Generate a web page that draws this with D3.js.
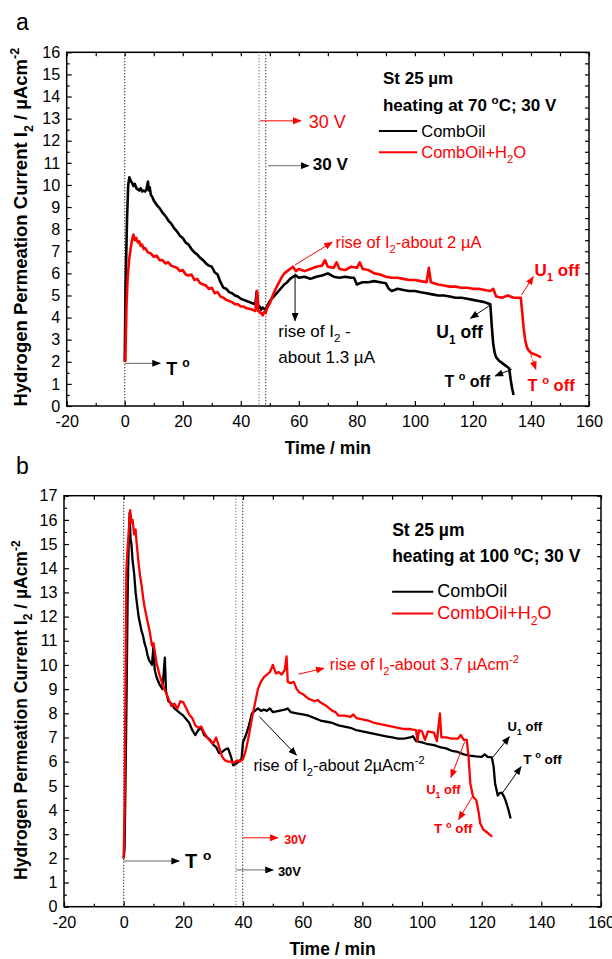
<!DOCTYPE html>
<html lang="en">
<head>
<meta charset="UTF-8">
<title>Hydrogen permeation current</title>
<script src="https://cdn.jsdelivr.net/npm/d3@7/dist/d3.min.js"></script>
<style>
  body { margin: 0; background: #fff; }
  svg { display: block; font-family: "Liberation Sans", Arial, sans-serif; }
</style>
</head>
<body>
<svg width="612" height="959"></svg>
<script>
// ---- data: [time in min, current in uA/cm2] ----
var xTicks = [-20, 0, 20, 40, 60, 80, 100, 120, 140, 160];

// panel a, 70 C
var aCombOil = [[0,2.0],[0.3,5.5],[0.8,8.5],[1.2,10.0],[1.6,10.35],[2.0,10.2],[2.5,10.1],[3,9.95],[3.5,10.05],[4,9.85],[4.5,9.8],[5,9.75],[5.5,9.85],[6,9.7],[6.5,9.75],[7,9.7],[7.5,9.8],[8,10.15],[8.3,9.75],[8.6,9.9],[9,9.55],[9.5,9.45],[10,9.3],[11,9.1],[12,8.95],[13,8.75],[14,8.6],[15,8.4],[16,8.25],[17,8.05],[18,7.9],[19,7.7],[20,7.6],[21,7.4],[22,7.3],[23,7.1],[24,6.95],[25,6.85],[26,6.7],[27,6.6],[28,6.45],[29,6.35],[30,6.3],[31,6.05],[32,5.95],[33,5.6],[34,5.35],[35,5.3],[36,5.15],[37,5.1],[38,5.0],[39,4.95],[40,4.85],[41,4.8],[42,4.75],[43,4.7],[44,4.65],[45,4.6],[45.5,5.2],[46,4.55],[46.5,4.5],[47,4.35],[47.5,4.45],[48,4.4],[48.5,4.35],[49,4.5],[50,4.75],[51,4.9],[52,5.05],[53,5.2],[54,5.35],[55,5.5],[56,5.6],[57,5.75],[58,5.85],[59,5.9],[60,5.8],[62,5.85],[64,5.75],[66,5.85],[68,5.9],[70,6.0],[72,5.85],[74,5.8],[76,5.85],[78,5.8],[79,5.8],[80,5.5],[81,5.55],[82,5.6],[84,5.6],[86,5.65],[88,5.6],[90,5.55],[91,5.3],[92,5.2],[93,5.25],[94,5.3],[96,5.25],[98,5.2],[100,5.2],[102,5.15],[104,5.1],[106,5.05],[108,5.0],[110,5.0],[112,4.95],[114,4.9],[116,4.9],[118,4.85],[120,4.8],[122,4.75],[124,4.7],[125,4.65],[126,4.6],[126.5,3.6],[127,2.8],[127.5,2.4],[128,2.2],[129,2.05],[130,1.95],[131,1.85],[132,1.75],[132.5,1.7],[133,1.2],[133.5,0.8],[134,0.5]];
var aCombOilH2O = [[0.2,2.0],[0.6,4.5],[1,5.8],[1.5,6.6],[2,7.1],[2.5,7.5],[3,7.75],[3.5,7.5],[4,7.6],[4.5,7.4],[5,7.45],[5.5,7.25],[6,7.3],[6.5,7.1],[7,7.15],[8,6.95],[9,6.9],[10,6.75],[11,6.8],[12,6.6],[13,6.6],[14,6.45],[15,6.5],[16,6.35],[17,6.3],[18,6.25],[19,6.1],[20,6.15],[21,5.95],[22,5.9],[23,5.95],[24,5.7],[25,5.75],[26,5.55],[27,5.5],[28,5.45],[29,5.3],[30,5.35],[31,5.1],[32,5.15],[33,4.95],[34,4.9],[35,4.8],[36,4.75],[37,4.7],[38,4.6],[39,4.6],[40,4.5],[41,4.5],[42,4.42],[43,4.4],[44,4.35],[45,4.3],[45.6,5.2],[46,4.3],[47,4.2],[47.5,4.1],[48,4.25],[48.5,4.2],[49,4.4],[50,4.65],[51,5.0],[52,5.3],[53,5.55],[54,5.8],[55,6.0],[56,6.1],[57,6.2],[58,6.3],[59,6.1],[60,6.2],[62,6.1],[64,6.2],[66,6.3],[68,6.35],[69,6.6],[70,6.3],[72,6.25],[73,6.5],[74,6.2],[76,6.15],[78,6.3],[80,6.25],[81,6.5],[82,6.2],[84,6.15],[86,6.0],[88,5.95],[90,5.85],[92,5.8],[94,5.8],[96,5.75],[98,5.7],[100,5.7],[102,5.65],[104,5.6],[104.8,6.25],[105.5,5.6],[108,5.5],[110,5.45],[112,5.4],[114,5.4],[116,5.35],[118,5.35],[120,5.3],[122,5.3],[124,5.25],[126,5.2],[127,5.3],[128,4.95],[130,4.9],[132,5.0],[134,4.9],[136,4.9],[136.5,4.9],[137,4.2],[137.5,3.5],[138,3.0],[138.5,2.7],[139,2.55],[140,2.4],[141,2.35],[142,2.3],[143.5,2.2]];

// panel b, 100 C
var bCombOil = [[0,2.0],[0.3,2.4],[0.6,5],[1,9],[1.3,12.5],[1.6,14.6],[2.0,16.3],[2.3,15.2],[2.6,15.0],[3,14.3],[3.5,13.8],[4,13.0],[4.5,12.5],[5,12.0],[5.5,11.7],[6,11.4],[6.5,11.2],[7,10.9],[7.5,10.7],[8,10.4],[8.5,10.2],[9,10.1],[9.5,10.0],[10,10.8],[10.4,9.8],[11,9.5],[12,9.2],[13,9.0],[13.8,10.3],[14.2,8.9],[15,8.5],[16,8.4],[17,8.2],[18,8.1],[19,8.0],[20,7.9],[21,7.75],[22,7.6],[23,7.3],[24,7.1],[25,7.3],[26,7.4],[27,7.1],[28,7.0],[29,6.9],[30,6.7],[31,6.6],[32,6.35],[33,6.4],[34,6.5],[35,6.55],[36,6.2],[36.7,5.85],[37.5,5.9],[38.5,6.0],[39.5,6.1],[40,6.8],[41,7.1],[42,7.5],[43,8.0],[44,8.1],[45,8.2],[46,8.1],[47,8.15],[48,8.1],[49,8.2],[50,8.05],[52,8.1],[54,8.15],[55,8.2],[56,8.05],[58,8.0],[60,7.95],[62,7.9],[64,7.8],[66,7.7],[68,7.65],[70,7.6],[72,7.5],[74,7.45],[76,7.4],[78,7.3],[80,7.25],[82,7.2],[84,7.15],[86,7.1],[88,7.05],[90,7.0],[92,6.95],[94,6.95],[96,7.0],[97,7.05],[98,6.85],[100,6.8],[102,6.72],[104,6.68],[106,6.6],[108,6.55],[110,6.45],[112,6.4],[114,6.3],[116,6.25],[118,6.22],[120,6.2],[121,6.3],[122,6.2],[123.4,6.18],[124,5.8],[124.5,5.1],[125.4,4.6],[126,4.7],[126.7,4.72],[127.5,4.55],[128,4.4],[129,4.0],[129.7,3.65]];
var bCombOilH2O = [[0,2.0],[0.3,4],[0.6,9],[0.9,13.9],[1.3,14.8],[1.8,15.7],[2.2,16.4],[2.6,15.9],[3,16.0],[3.5,15.4],[4,15.6],[4.3,15.1],[5,14.2],[5.5,13.7],[6,13.3],[6.5,12.8],[7,12.4],[7.5,12.1],[8,11.8],[8.7,11.4],[9.5,10.8],[10,10.9],[11,10.1],[12,9.6],[13,9.2],[14,8.9],[15,8.6],[16,8.3],[17,8.4],[18,8.2],[19,8.5],[20,8.45],[21,8.2],[22,7.95],[23,7.8],[24,7.5],[25,7.4],[26,7.45],[27,7.2],[28,7.0],[29,6.85],[30,6.75],[31,7.0],[32,6.6],[33,6.2],[34,6.05],[35,6.0],[36,6.0],[37,5.95],[38,6.05],[39,6.0],[40,6.1],[41,6.5],[42,7.1],[43,7.8],[44,8.4],[45,9.0],[46,9.3],[47,9.5],[48,9.6],[49,9.7],[50,10.0],[51,9.65],[52,9.7],[53,9.6],[54,9.8],[54.6,10.35],[55,9.3],[56,9.25],[57,9.3],[58,9.0],[59,8.85],[60,8.8],[62,8.6],[64,8.5],[65,8.55],[66,8.45],[68,8.3],[70,8.1],[71,8.05],[72,7.9],[74,7.9],[76,7.85],[77,7.95],[78,7.8],[80,7.75],[82,7.7],[84,7.6],[86,7.55],[88,7.5],[90,7.45],[92,7.4],[94,7.35],[96,7.35],[98,7.3],[98.5,6.85],[99,7.3],[100,7.25],[101,6.9],[102,7.25],[104,7.2],[105,6.85],[106,8.0],[106.5,7.0],[108,7.0],[110,6.95],[112,6.95],[113,7.1],[114,6.9],[115,6.9],[115.6,6.2],[116.2,5.1],[117.1,4.55],[118.2,4.4],[119,3.9],[119.5,3.45],[120.5,3.2],[121.5,3.1],[122.5,3.0],[123.5,2.9]];

var aSwitch = [0, 46.3, 48.6];   // dotted lines: heating on, 30 V applied
var bSwitch = [0, 37.6, 39.9];

var svg = d3.select("svg");
var defs = svg.append("defs");

function marker(id, color) {
  defs.append("marker").attr("id", id)
    .attr("viewBox", "0 0 10 8").attr("refX", 9).attr("refY", 4)
    .attr("markerWidth", 9).attr("markerHeight", 7)
    .attr("markerUnits", "userSpaceOnUse").attr("orient", "auto")
    .append("path").attr("d", "M0,0L10,4L0,8z").attr("fill", color);
}
marker("headK", "#000");
marker("headR", "#ff0000");

// text with sub/superscripts: parts = ["text", ["2","sub"], ...]
function rich(g, x, y, parts, size, bold, color) {
  var t = g.append("text").attr("x", x).attr("y", y)
    .attr("font-size", size).attr("font-weight", bold ? "bold" : "normal")
    .attr("fill", color || "#000");
  var shift = 0;
  parts.forEach(function(p) {
    var s = t.append("tspan");
    if (typeof p === "string") {
      s.attr("dy", -shift).text(p);
      shift = 0;
    } else {
      var d = p[1] === "sub" ? size * 0.3 : -size * 0.42;
      s.attr("dy", d - shift).attr("font-size", size * 0.68).text(p[0]);
      shift = d;
    }
  });
  return t;
}

function drawPanel(p) {
  var g = svg.append("g");
  var x = d3.scaleLinear().domain([-20, 160]).range([p.left, p.right]);
  var y = d3.scaleLinear().domain([0, p.yMax]).range([p.bottom, p.top]);
  var yMajor = d3.range(0, p.yMax + 1);
  var yMinor = d3.range(0.5, p.yMax, 1);
  var xMinor = d3.range(-10, 160, 20);

  function style(a) {
    a.select(".domain").remove();
    a.attr("font-size", 16.2).attr("font-family", null);
    a.selectAll("line").attr("stroke", "#000").attr("stroke-width", 1.2);
    return a;
  }
  style(g.append("g").attr("transform", "translate(0," + p.bottom + ")")
    .call(d3.axisBottom(x).tickValues(xTicks).tickSize(-5).tickPadding(9.5).tickFormat(String)));
  style(g.append("g").attr("transform", "translate(0," + p.bottom + ")")
    .call(d3.axisBottom(x).tickValues(xMinor).tickSize(-3).tickFormat("")));
  style(g.append("g").attr("transform", "translate(0," + p.top + ")")
    .call(d3.axisTop(x).tickValues(xTicks.concat(xMinor)).tickSize(-4).tickFormat("")));
  style(g.append("g").attr("transform", "translate(" + p.left + ",0)")
    .call(d3.axisLeft(y).tickValues(yMajor).tickSize(-5).tickPadding(6.5).tickFormat(String)));
  style(g.append("g").attr("transform", "translate(" + p.left + ",0)")
    .call(d3.axisLeft(y).tickValues(yMinor).tickSize(-3).tickFormat("")));
  style(g.append("g").attr("transform", "translate(" + p.right + ",0)")
    .call(d3.axisRight(y).tickValues(yMajor.concat(yMinor)).tickSize(-4).tickFormat("")));
  g.selectAll(".tick text").attr("fill", "#000");

  g.append("rect").attr("x", p.left).attr("y", p.top)
    .attr("width", p.right - p.left).attr("height", p.bottom - p.top)
    .attr("fill", "none").attr("stroke", "#000").attr("stroke-width", 1.5);

  g.selectAll("line.switch").data(p.switches).enter().append("line")
    .attr("class", "switch")
    .attr("x1", function(d) { return x(d); }).attr("x2", function(d) { return x(d); })
    .attr("y1", p.top).attr("y2", p.bottom)
    .attr("stroke", function(d, i) { return i === 1 ? "#555" : "#000"; })
    .attr("stroke-width", 1.1).attr("stroke-dasharray", "1,2");

  var line = d3.line().x(function(d) { return x(d[0]); }).y(function(d) { return y(d[1]); });
  g.append("path").datum(p.black).attr("d", line).attr("fill", "none")
    .attr("stroke", "#000").attr("stroke-width", p.lw).attr("stroke-linejoin", "round");
  g.append("path").datum(p.red).attr("d", line).attr("fill", "none")
    .attr("stroke", "#ff0000").attr("stroke-width", p.lw).attr("stroke-linejoin", "round");

  // axis titles
  g.append("text").attr("x", (p.left + p.right) / 2).attr("y", p.bottom + 48)
    .attr("text-anchor", "middle").attr("font-size", 17.5).attr("font-weight", "bold").text("Time / min");
  var yt = rich(g.append("g").attr("transform", "translate(27," + ((p.top + p.bottom) / 2 + p.yShift) + ") rotate(-90)"),
    0, 0, ["Hydrogen Permeation Current I", ["2", "sub"], " / \u00b5Acm", ["-2", "sup"]], p.ySize, true);
  yt.attr("text-anchor", "middle");
  g.append("text").attr("x", 16).attr("y", p.top - 22).attr("font-size", 23).text(p.letter);

  return { g: g, x: x, y: y };
}

function arrow(c, t1, v1, t2, v2, color, lineColor, dashed) {
  c.g.append("line")
    .attr("x1", c.x(t1)).attr("y1", c.y(v1)).attr("x2", c.x(t2)).attr("y2", c.y(v2))
    .attr("stroke", lineColor || color).attr("stroke-width", 1)
    .attr("stroke-dasharray", dashed ? "3,2" : null)
    .attr("marker-end", color === "#000" ? "url(#headK)" : "url(#headR)");
}
function note(c, t, v, parts, size, bold, color) {
  return rich(c.g, c.x(t), c.y(v), parts, size, bold, color);
}
function legendLine(c, t1, t2, v, color) {
  c.g.append("line").attr("x1", c.x(t1)).attr("x2", c.x(t2)).attr("y1", c.y(v)).attr("y2", c.y(v))
    .attr("stroke", color).attr("stroke-width", 2);
}

var R = "#ff0000", K = "#000";

// ---- panel a ----
var a = drawPanel({ left: 66.7, right: 589, top: 52.3, bottom: 406, yMax: 16, yShift: -2, ySize: 18.5, lw: 2.6,
  black: aCombOil, red: aCombOilH2O, switches: aSwitch, letter: "a" });
note(a, 89, 14.57, ["St 25 \u00b5m"], 17, true);
note(a, 89, 13.36, ["heating at 70 ", ["o", "sup"], "C; 30 V"], 17, true);
legendLine(a, 87.6, 100.8, 12.44, K);
note(a, 102.2, 12.19, ["CombOil"], 16.5, false);
legendLine(a, 87.6, 100.8, 11.48, R);
note(a, 102.2, 11.22, ["CombOil+H", ["2", "sub"], "O"], 16.5, false, R);
arrow(a, 46.6, 12.9, 60.7, 12.9, R);
note(a, 63.4, 12.57, ["30 V"], 18, false, R);
arrow(a, 49.3, 10.87, 63.4, 10.87, K, "#666");
note(a, 64.8, 10.68, ["30 V"], 17, true);
arrow(a, 58.7, 6.38, 71.5, 7.41, R);
note(a, 72.6, 7.14, ["rise of I", ["2", "sub"], "-about 2 \u00b5A"], 16.5, false, R);
arrow(a, 58.7, 6.0, 58.7, 3.86, K);
note(a, 52.9, 3.14, ["rise of I", ["2", "sub"], " -"], 17, false);
note(a, 52.9, 1.96, ["about 1.3 \u00b5A"], 17, false);
arrow(a, 0, 1.93, 12.2, 1.93, K, "#666");
note(a, 14.3, 1.4, ["T ", ["o", "sup"]], 18, true);
arrow(a, 126, 4.57, 119.2, 3.97, K);
note(a, 107.4, 3.06, ["U", ["1", "sub"], " off"], 17.5, true);
arrow(a, 133.4, 1.66, 127.7, 1.36, K);
note(a, 110.2, 0.87, ["T ", ["o", "sup"], " off"], 16, true);
arrow(a, 136.7, 5.02, 140.8, 5.85, R);
note(a, 141.2, 5.9, ["U", ["1", "sub"], " off"], 17, true, R);
arrow(a, 139.4, 2.53, 141.7, 1.66, R, null, true);
note(a, 138.8, 0.69, ["T ", ["o", "sup"], " off"], 16.5, true, R);

// ---- panel b ----
var b = drawPanel({ left: 64, right: 601, top: 495.7, bottom: 906.7, yMax: 17, yShift: 9, ySize: 17.5, lw: 2.3,
  black: bCombOil, red: bCombOilH2O, switches: bSwitch, letter: "b" });
note(b, 90, 15.33, ["St 25 \u00b5m"], 17.5, true);
note(b, 90, 14.26, ["heating at 100 ", ["o", "sup"], "C; 30 V"], 17.5, true);
legendLine(b, 90, 103.8, 13.03, K);
note(b, 105.1, 12.8, ["CombOil"], 18, false);
legendLine(b, 90, 103.8, 12.13, R);
note(b, 105.1, 11.89, ["CombOil+H", ["2", "sub"], "O"], 18, false, R);
arrow(b, 58.6, 9.62, 67.1, 9.86, R);
note(b, 69.1, 9.79, ["rise of I", ["2", "sub"], "-about 3.7 \u00b5Acm", ["-2", "sup"]], 16.3, false, R);
arrow(b, 45.5, 7.86, 57.9, 6.27, K);
note(b, 43.5, 5.62, ["rise of I", ["2", "sub"], "-about 2\u00b5Acm", ["-2", "sup"]], 16.3, false);
arrow(b, 123.7, 6.18, 129.3, 7.03, K);
note(b, 128.7, 7.28, ["U", ["1", "sub"], " off"], 13, true);
arrow(b, 126.7, 4.66, 133.2, 5.79, K);
note(b, 133.9, 5.9, ["T ", ["o", "sup"], " off"], 13.5, true);
arrow(b, 114.3, 6.82, 109.7, 5.35, R);
note(b, 101.4, 4.66, ["U", ["1", "sub"], " off"], 13, true, R);
arrow(b, 116.9, 4.55, 112.3, 3.61, R);
note(b, 104.0, 3.04, ["T ", ["o", "sup"], " off"], 13.5, true, R);
arrow(b, 40.0, 2.85, 51.7, 2.85, R);
note(b, 53.8, 2.59, ["30V"], 12.5, true, R);
arrow(b, 37.75, 1.52, 50.1, 1.52, K, "#666");
note(b, 51.7, 1.27, ["30V"], 13, true);
arrow(b, 0, 1.89, 18.6, 1.89, K, "#666");
note(b, 20.6, 1.59, ["T ", ["o", "sup"]], 20, true);
</script>
</body>
</html>
